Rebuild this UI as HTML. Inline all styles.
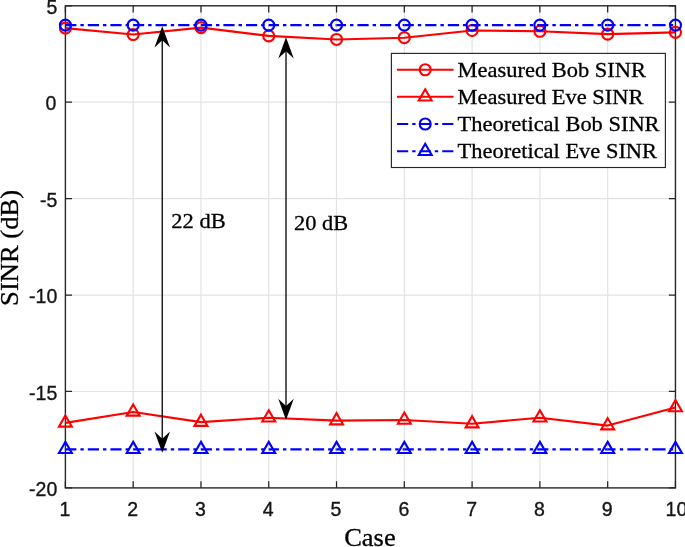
<!DOCTYPE html>
<html lang="en"><head><meta charset="utf-8"><title>SINR chart</title>
<style>html,body{margin:0;padding:0;background:#fff}svg{display:block}</style></head>
<body>
<svg width="685" height="547" viewBox="0 0 685 547">
<rect width="685" height="547" fill="#fff"/>
<line x1="133.18" x2="133.18" y1="5.8" y2="487.9" stroke="#e3e3e3" stroke-width="1.2"/>
<line x1="200.97" x2="200.97" y1="5.8" y2="487.9" stroke="#e3e3e3" stroke-width="1.2"/>
<line x1="268.75" x2="268.75" y1="5.8" y2="487.9" stroke="#e3e3e3" stroke-width="1.2"/>
<line x1="336.53" x2="336.53" y1="5.8" y2="487.9" stroke="#e3e3e3" stroke-width="1.2"/>
<line x1="404.32" x2="404.32" y1="5.8" y2="487.9" stroke="#e3e3e3" stroke-width="1.2"/>
<line x1="472.10" x2="472.10" y1="5.8" y2="487.9" stroke="#e3e3e3" stroke-width="1.2"/>
<line x1="539.88" x2="539.88" y1="5.8" y2="487.9" stroke="#e3e3e3" stroke-width="1.2"/>
<line x1="607.67" x2="607.67" y1="5.8" y2="487.9" stroke="#e3e3e3" stroke-width="1.2"/>
<line x1="65.4" x2="675.45" y1="102.22" y2="102.22" stroke="#e3e3e3" stroke-width="1.2"/>
<line x1="65.4" x2="675.45" y1="198.64" y2="198.64" stroke="#e3e3e3" stroke-width="1.2"/>
<line x1="65.4" x2="675.45" y1="295.06" y2="295.06" stroke="#e3e3e3" stroke-width="1.2"/>
<line x1="65.4" x2="675.45" y1="391.48" y2="391.48" stroke="#e3e3e3" stroke-width="1.2"/>
<rect x="65.4" y="5.8" width="610.05" height="482.10" fill="none" stroke="#262626" stroke-width="1.4"/>
<path d="M65.40 487.9v-6.6M65.40 5.8v6.6" stroke="#262626" stroke-width="1.25" fill="none"/>
<path d="M133.18 487.9v-6.6M133.18 5.8v6.6" stroke="#262626" stroke-width="1.25" fill="none"/>
<path d="M200.97 487.9v-6.6M200.97 5.8v6.6" stroke="#262626" stroke-width="1.25" fill="none"/>
<path d="M268.75 487.9v-6.6M268.75 5.8v6.6" stroke="#262626" stroke-width="1.25" fill="none"/>
<path d="M336.53 487.9v-6.6M336.53 5.8v6.6" stroke="#262626" stroke-width="1.25" fill="none"/>
<path d="M404.32 487.9v-6.6M404.32 5.8v6.6" stroke="#262626" stroke-width="1.25" fill="none"/>
<path d="M472.10 487.9v-6.6M472.10 5.8v6.6" stroke="#262626" stroke-width="1.25" fill="none"/>
<path d="M539.88 487.9v-6.6M539.88 5.8v6.6" stroke="#262626" stroke-width="1.25" fill="none"/>
<path d="M607.67 487.9v-6.6M607.67 5.8v6.6" stroke="#262626" stroke-width="1.25" fill="none"/>
<path d="M675.45 487.9v-6.6M675.45 5.8v6.6" stroke="#262626" stroke-width="1.25" fill="none"/>
<path d="M65.4 5.80h6.6M675.45 5.80h-6.6" stroke="#262626" stroke-width="1.25" fill="none"/>
<path d="M65.4 102.22h6.6M675.45 102.22h-6.6" stroke="#262626" stroke-width="1.25" fill="none"/>
<path d="M65.4 198.64h6.6M675.45 198.64h-6.6" stroke="#262626" stroke-width="1.25" fill="none"/>
<path d="M65.4 295.06h6.6M675.45 295.06h-6.6" stroke="#262626" stroke-width="1.25" fill="none"/>
<path d="M65.4 391.48h6.6M675.45 391.48h-6.6" stroke="#262626" stroke-width="1.25" fill="none"/>
<path d="M65.4 487.90h6.6M675.45 487.90h-6.6" stroke="#262626" stroke-width="1.25" fill="none"/>
<g font-family="'Liberation Sans', Arial, sans-serif" font-size="19.5" fill="#151515" stroke="#151515" stroke-width="0.35">
<text x="64.90" y="515.5" text-anchor="middle">1</text>
<text x="132.68" y="515.5" text-anchor="middle">2</text>
<text x="200.47" y="515.5" text-anchor="middle">3</text>
<text x="268.25" y="515.5" text-anchor="middle">4</text>
<text x="336.03" y="515.5" text-anchor="middle">5</text>
<text x="403.82" y="515.5" text-anchor="middle">6</text>
<text x="471.60" y="515.5" text-anchor="middle">7</text>
<text x="539.38" y="515.5" text-anchor="middle">8</text>
<text x="607.17" y="515.5" text-anchor="middle">9</text>
<text x="676.45" y="515.5" text-anchor="middle">10</text>
<text x="57.30" y="13.90" text-anchor="end">5</text>
<text x="56.40" y="110.32" text-anchor="end">0</text>
<text x="57.30" y="206.74" text-anchor="end">-5</text>
<text x="57.30" y="303.16" text-anchor="end">-10</text>
<text x="57.30" y="399.58" text-anchor="end">-15</text>
<text x="57.30" y="496.00" text-anchor="end">-20</text>
</g>
<g font-family="'Liberation Serif', 'Times New Roman', serif" fill="#000" stroke="#000" stroke-width="0.3">
<text transform="translate(369.9 546.1) scale(1.04 1)" font-size="25.5" text-anchor="middle">Case</text>
<text transform="translate(18.3 247.9) rotate(-90) scale(1.043 1)" font-size="25.5" text-anchor="middle">SINR (dB)</text>
<text transform="translate(171.3 228.2) scale(1.055 1)" font-size="21.33">22 dB</text>
<text transform="translate(294 229.8) scale(1.05 1)" font-size="21.33">20 dB</text>
</g>
<g>
<polyline points="65.40,28.17 133.18,34.53 200.97,27.59 268.75,35.88 336.53,39.45 404.32,37.72 472.10,30.48 539.88,31.25 607.67,34.15 675.45,32.41" fill="none" stroke="#ff0000" stroke-width="2.1" stroke-linejoin="round"/>
<circle cx="65.40" cy="28.17" r="5.5" fill="none" stroke="#ff0000" stroke-width="2.1"/>
<circle cx="133.18" cy="34.53" r="5.5" fill="none" stroke="#ff0000" stroke-width="2.1"/>
<circle cx="200.97" cy="27.59" r="5.5" fill="none" stroke="#ff0000" stroke-width="2.1"/>
<circle cx="268.75" cy="35.88" r="5.5" fill="none" stroke="#ff0000" stroke-width="2.1"/>
<circle cx="336.53" cy="39.45" r="5.5" fill="none" stroke="#ff0000" stroke-width="2.1"/>
<circle cx="404.32" cy="37.72" r="5.5" fill="none" stroke="#ff0000" stroke-width="2.1"/>
<circle cx="472.10" cy="30.48" r="5.5" fill="none" stroke="#ff0000" stroke-width="2.1"/>
<circle cx="539.88" cy="31.25" r="5.5" fill="none" stroke="#ff0000" stroke-width="2.1"/>
<circle cx="607.67" cy="34.15" r="5.5" fill="none" stroke="#ff0000" stroke-width="2.1"/>
<circle cx="675.45" cy="32.41" r="5.5" fill="none" stroke="#ff0000" stroke-width="2.1"/>
<polyline points="65.40,422.91 133.18,411.92 200.97,422.14 268.75,417.71 336.53,420.60 404.32,420.02 472.10,423.68 539.88,417.71 607.67,425.61 675.45,407.49" fill="none" stroke="#ff0000" stroke-width="2.1" stroke-linejoin="round"/>
<path d="M65.40 415.45L71.85 426.65L58.95 426.65Z" fill="none" stroke="#ff0000" stroke-width="2.1" stroke-linejoin="miter"/>
<path d="M133.18 404.45L139.63 415.65L126.73 415.65Z" fill="none" stroke="#ff0000" stroke-width="2.1" stroke-linejoin="miter"/>
<path d="M200.97 414.67L207.42 425.87L194.52 425.87Z" fill="none" stroke="#ff0000" stroke-width="2.1" stroke-linejoin="miter"/>
<path d="M268.75 410.24L275.20 421.44L262.30 421.44Z" fill="none" stroke="#ff0000" stroke-width="2.1" stroke-linejoin="miter"/>
<path d="M336.53 413.13L342.98 424.33L330.08 424.33Z" fill="none" stroke="#ff0000" stroke-width="2.1" stroke-linejoin="miter"/>
<path d="M404.32 412.55L410.77 423.75L397.87 423.75Z" fill="none" stroke="#ff0000" stroke-width="2.1" stroke-linejoin="miter"/>
<path d="M472.10 416.22L478.55 427.42L465.65 427.42Z" fill="none" stroke="#ff0000" stroke-width="2.1" stroke-linejoin="miter"/>
<path d="M539.88 410.24L546.33 421.44L533.43 421.44Z" fill="none" stroke="#ff0000" stroke-width="2.1" stroke-linejoin="miter"/>
<path d="M607.67 418.15L614.12 429.35L601.22 429.35Z" fill="none" stroke="#ff0000" stroke-width="2.1" stroke-linejoin="miter"/>
<path d="M675.45 400.02L681.90 411.22L669.00 411.22Z" fill="none" stroke="#ff0000" stroke-width="2.1" stroke-linejoin="miter"/>
<line x1="65.40" x2="133.18" y1="25.08" y2="25.08" stroke="#0000ff" stroke-width="2.1" stroke-dasharray="11.2 4.0 3.4 4.0" stroke-dashoffset="0.2"/><line x1="133.18" x2="200.97" y1="25.08" y2="25.08" stroke="#0000ff" stroke-width="2.1" stroke-dasharray="11.2 4.0 3.4 4.0" stroke-dashoffset="0.2"/><line x1="200.97" x2="268.75" y1="25.08" y2="25.08" stroke="#0000ff" stroke-width="2.1" stroke-dasharray="11.2 4.0 3.4 4.0" stroke-dashoffset="0.2"/><line x1="268.75" x2="336.53" y1="25.08" y2="25.08" stroke="#0000ff" stroke-width="2.1" stroke-dasharray="11.2 4.0 3.4 4.0" stroke-dashoffset="1.0"/><line x1="336.53" x2="404.32" y1="25.08" y2="25.08" stroke="#0000ff" stroke-width="2.1" stroke-dasharray="11.2 4.0 3.4 4.0" stroke-dashoffset="1.7"/><line x1="404.32" x2="472.10" y1="25.08" y2="25.08" stroke="#0000ff" stroke-width="2.1" stroke-dasharray="11.2 4.0 3.4 4.0" stroke-dashoffset="1.7"/><line x1="472.10" x2="539.88" y1="25.08" y2="25.08" stroke="#0000ff" stroke-width="2.1" stroke-dasharray="11.2 4.0 3.4 4.0" stroke-dashoffset="2.7"/><line x1="539.88" x2="607.67" y1="25.08" y2="25.08" stroke="#0000ff" stroke-width="2.1" stroke-dasharray="11.2 4.0 3.4 4.0" stroke-dashoffset="2.7"/><line x1="607.67" x2="675.45" y1="25.08" y2="25.08" stroke="#0000ff" stroke-width="2.1" stroke-dasharray="13.2 4.2 3.4 4.2" stroke-dashoffset="5.3"/>
<circle cx="65.40" cy="25.08" r="5.5" fill="none" stroke="#0000ff" stroke-width="2.1"/>
<circle cx="133.18" cy="25.08" r="5.5" fill="none" stroke="#0000ff" stroke-width="2.1"/>
<circle cx="200.97" cy="25.08" r="5.5" fill="none" stroke="#0000ff" stroke-width="2.1"/>
<circle cx="268.75" cy="25.08" r="5.5" fill="none" stroke="#0000ff" stroke-width="2.1"/>
<circle cx="336.53" cy="25.08" r="5.5" fill="none" stroke="#0000ff" stroke-width="2.1"/>
<circle cx="404.32" cy="25.08" r="5.5" fill="none" stroke="#0000ff" stroke-width="2.1"/>
<circle cx="472.10" cy="25.08" r="5.5" fill="none" stroke="#0000ff" stroke-width="2.1"/>
<circle cx="539.88" cy="25.08" r="5.5" fill="none" stroke="#0000ff" stroke-width="2.1"/>
<circle cx="607.67" cy="25.08" r="5.5" fill="none" stroke="#0000ff" stroke-width="2.1"/>
<circle cx="675.45" cy="25.08" r="5.5" fill="none" stroke="#0000ff" stroke-width="2.1"/>
<line x1="65.40" x2="133.18" y1="449.33" y2="449.33" stroke="#0000ff" stroke-width="2.1" stroke-dasharray="11.2 4.0 3.4 4.0" stroke-dashoffset="0.2"/><line x1="133.18" x2="200.97" y1="449.33" y2="449.33" stroke="#0000ff" stroke-width="2.1" stroke-dasharray="11.2 4.0 3.4 4.0" stroke-dashoffset="0.2"/><line x1="200.97" x2="268.75" y1="449.33" y2="449.33" stroke="#0000ff" stroke-width="2.1" stroke-dasharray="11.2 4.0 3.4 4.0" stroke-dashoffset="0.2"/><line x1="268.75" x2="336.53" y1="449.33" y2="449.33" stroke="#0000ff" stroke-width="2.1" stroke-dasharray="11.2 4.0 3.4 4.0" stroke-dashoffset="1.0"/><line x1="336.53" x2="404.32" y1="449.33" y2="449.33" stroke="#0000ff" stroke-width="2.1" stroke-dasharray="11.2 4.0 3.4 4.0" stroke-dashoffset="1.7"/><line x1="404.32" x2="472.10" y1="449.33" y2="449.33" stroke="#0000ff" stroke-width="2.1" stroke-dasharray="11.2 4.0 3.4 4.0" stroke-dashoffset="1.7"/><line x1="472.10" x2="539.88" y1="449.33" y2="449.33" stroke="#0000ff" stroke-width="2.1" stroke-dasharray="11.2 4.0 3.4 4.0" stroke-dashoffset="2.7"/><line x1="539.88" x2="607.67" y1="449.33" y2="449.33" stroke="#0000ff" stroke-width="2.1" stroke-dasharray="11.2 4.0 3.4 4.0" stroke-dashoffset="2.7"/><line x1="607.67" x2="675.45" y1="449.33" y2="449.33" stroke="#0000ff" stroke-width="2.1" stroke-dasharray="13.2 4.2 3.4 4.2" stroke-dashoffset="5.3"/>
<path d="M65.40 441.87L71.85 453.07L58.95 453.07Z" fill="none" stroke="#0000ff" stroke-width="2.1" stroke-linejoin="miter"/>
<path d="M133.18 441.87L139.63 453.07L126.73 453.07Z" fill="none" stroke="#0000ff" stroke-width="2.1" stroke-linejoin="miter"/>
<path d="M200.97 441.87L207.42 453.07L194.52 453.07Z" fill="none" stroke="#0000ff" stroke-width="2.1" stroke-linejoin="miter"/>
<path d="M268.75 441.87L275.20 453.07L262.30 453.07Z" fill="none" stroke="#0000ff" stroke-width="2.1" stroke-linejoin="miter"/>
<path d="M336.53 441.87L342.98 453.07L330.08 453.07Z" fill="none" stroke="#0000ff" stroke-width="2.1" stroke-linejoin="miter"/>
<path d="M404.32 441.87L410.77 453.07L397.87 453.07Z" fill="none" stroke="#0000ff" stroke-width="2.1" stroke-linejoin="miter"/>
<path d="M472.10 441.87L478.55 453.07L465.65 453.07Z" fill="none" stroke="#0000ff" stroke-width="2.1" stroke-linejoin="miter"/>
<path d="M539.88 441.87L546.33 453.07L533.43 453.07Z" fill="none" stroke="#0000ff" stroke-width="2.1" stroke-linejoin="miter"/>
<path d="M607.67 441.87L614.12 453.07L601.22 453.07Z" fill="none" stroke="#0000ff" stroke-width="2.1" stroke-linejoin="miter"/>
<path d="M675.45 441.87L681.90 453.07L669.00 453.07Z" fill="none" stroke="#0000ff" stroke-width="2.1" stroke-linejoin="miter"/>
</g>
<line x1="162.25" x2="162.25" y1="39.3" y2="439.8" stroke="#000" stroke-width="1.3"/><path d="M162.25 26.3L170.0 47.5L162.25 40.3L154.5 47.5Z" fill="#000"/><path d="M162.25 452.8L170.0 431.6L162.25 438.8L154.5 431.6Z" fill="#000"/>
<line x1="286.0" x2="286.0" y1="50.3" y2="406.9" stroke="#000" stroke-width="1.3"/><path d="M286.0 37.3L293.75 58.5L286.0 51.3L278.25 58.5Z" fill="#000"/><path d="M286.0 419.9L293.75 398.7L286.0 405.9L278.25 398.7Z" fill="#000"/>
<rect x="391.4" y="53.4" width="274.00" height="114.10" fill="#fff" stroke="#262626" stroke-width="1.15"/>
<line x1="397.0" x2="453.6" y1="69.75" y2="69.75" stroke="#ff0000" stroke-width="2.1"/>
<circle cx="425.20" cy="69.75" r="5.5" fill="none" stroke="#ff0000" stroke-width="2.1"/>
<text transform="translate(457.6 76.70) scale(1.045 1)" font-family="'Liberation Serif', 'Times New Roman', serif" font-size="21.5" fill="#000" stroke="#000" stroke-width="0.3">Measured Bob SINR</text>
<line x1="397.0" x2="453.6" y1="96.75" y2="96.75" stroke="#ff0000" stroke-width="2.1"/>
<path d="M425.20 89.28L431.65 100.48L418.75 100.48Z" fill="none" stroke="#ff0000" stroke-width="2.1" stroke-linejoin="miter"/>
<text transform="translate(457.6 103.70) scale(1.045 1)" font-family="'Liberation Serif', 'Times New Roman', serif" font-size="21.5" fill="#000" stroke="#000" stroke-width="0.3">Measured Eve SINR</text>
<line x1="397.0" x2="453.6" y1="124.0" y2="124.0" stroke="#0000ff" stroke-width="2.1" stroke-dasharray="11.2 4.0 3.4 4.0"/>
<circle cx="425.20" cy="124.00" r="5.5" fill="none" stroke="#0000ff" stroke-width="2.1"/>
<text transform="translate(457.6 130.95) scale(1.045 1)" font-family="'Liberation Serif', 'Times New Roman', serif" font-size="21.5" fill="#000" stroke="#000" stroke-width="0.3">Theoretical Bob SINR</text>
<line x1="397.0" x2="453.6" y1="151.2" y2="151.2" stroke="#0000ff" stroke-width="2.1" stroke-dasharray="11.2 4.0 3.4 4.0"/>
<path d="M425.20 143.73L431.65 154.93L418.75 154.93Z" fill="none" stroke="#0000ff" stroke-width="2.1" stroke-linejoin="miter"/>
<text transform="translate(457.6 158.15) scale(1.045 1)" font-family="'Liberation Serif', 'Times New Roman', serif" font-size="21.5" fill="#000" stroke="#000" stroke-width="0.3">Theoretical Eve SINR</text>
</svg>
</body></html>
